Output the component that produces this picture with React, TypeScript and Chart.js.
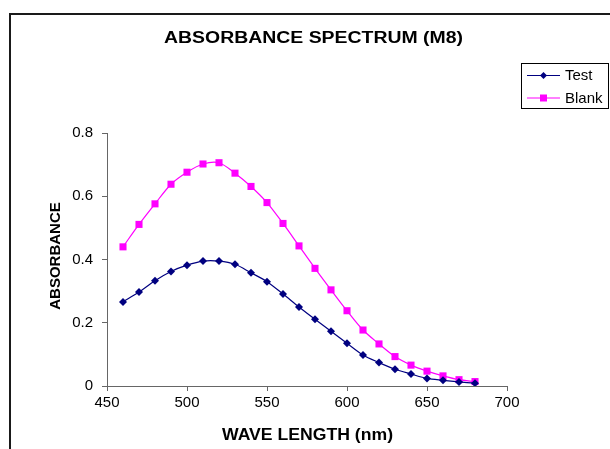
import React, { useEffect, useRef } from "react";
import { Chart, registerables } from "chart.js";

Chart.register(...registerables);

const chartTitle = "ABSORBANCE SPECTRUM (M8)";
const xTitle = "WAVE LENGTH (nm)";
const yTitle = "ABSORBANCE";

const wavelengths = [460, 470, 480, 490, 500, 510, 520, 530, 540, 550, 560, 570, 580, 590, 600, 610, 620, 630, 640, 650, 660, 670, 680];
const testValues = [0.266, 0.297, 0.333, 0.362, 0.382, 0.395, 0.395, 0.385, 0.358, 0.33, 0.291, 0.25, 0.211, 0.173, 0.135, 0.098, 0.074, 0.053, 0.038, 0.024, 0.018, 0.013, 0.009];
const blankValues = [0.44, 0.511, 0.576, 0.638, 0.676, 0.702, 0.706, 0.673, 0.631, 0.58, 0.514, 0.443, 0.372, 0.304, 0.238, 0.177, 0.133, 0.093, 0.066, 0.047, 0.032, 0.02, 0.014];

const seriesLabels = ["Test", "Blank"];
const seriesColors = ["#000080", "#FF00FF"];
const seriesMarkers = ["rectRot", "rect"];

const FONT = "'Liberation Sans', Arial, sans-serif";

function stretchedText(ctx: CanvasRenderingContext2D, text: string, cx: number, baseline: number, width: number) {
  const natural = ctx.measureText(text).width;
  const sx = width / natural;
  ctx.save();
  ctx.translate(cx, baseline);
  ctx.scale(sx, 1);
  ctx.textAlign = "center";
  ctx.textBaseline = "alphabetic";
  ctx.fillText(text, 0, 0);
  ctx.restore();
}

const decorPlugin = {
  id: "decor",
  afterDraw(chart: any) {
    const ctx = chart.ctx as CanvasRenderingContext2D;
    ctx.save();
    // outer border
    ctx.strokeStyle = "#1a1a1a";
    ctx.lineWidth = 2;
    ctx.beginPath();
    ctx.moveTo(10, 470);
    ctx.lineTo(10, 14);
    ctx.lineTo(640, 14);
    ctx.stroke();

    ctx.fillStyle = "#000";
    // title
    ctx.font = `bold 16px ${FONT}`;
    stretchedText(ctx, chartTitle, 313.5, 43, 299);

    // x title
    ctx.font = `bold 16px ${FONT}`;
    stretchedText(ctx, xTitle, 307.5, 440, 171);

    // y title
    ctx.font = `bold 15px ${FONT}`;
    ctx.save();
    ctx.translate(60, 256);
    ctx.rotate(-Math.PI / 2);
    ctx.textAlign = "center";
    ctx.textBaseline = "alphabetic";
    ctx.fillText(yTitle, 0, 0);
    ctx.restore();

    // legend
    ctx.strokeStyle = "#000";
    ctx.lineWidth = 1;
    ctx.strokeRect(521.5, 63.5, 87, 45);
    const rows = [75.5, 98];
    chart.data.datasets.forEach((ds: any, i: number) => {
      const y = rows[i];
      ctx.strokeStyle = ds.borderColor;
      ctx.lineWidth = 1;
      ctx.beginPath();
      ctx.moveTo(527, y);
      ctx.lineTo(560, y);
      ctx.stroke();
      ctx.fillStyle = ds.backgroundColor;
      ctx.beginPath();
      if (ds.pointStyle === "rectRot") {
        ctx.moveTo(543.5, y - 3.5);
        ctx.lineTo(547, y);
        ctx.lineTo(543.5, y + 3.5);
        ctx.lineTo(540, y);
        ctx.closePath();
      } else {
        ctx.rect(540, y - 3.5, 7, 7);
      }
      ctx.fill();
      ctx.fillStyle = "#000";
      ctx.font = `15px ${FONT}`;
      ctx.textAlign = "left";
      ctx.textBaseline = "middle";
      ctx.fillText(ds.label, 565, y + 0.5);
    });
    ctx.restore();
  },
};

export default function App() {
  const ref = useRef<HTMLCanvasElement | null>(null);

  useEffect(() => {
    document.body.style.margin = "0";
    const canvas = ref.current;
    if (!canvas) return;
    const series = [testValues, blankValues];
    const chart = new Chart(canvas, {
      type: "line",
      data: {
        datasets: series.map((vals, i) => ({
          label: seriesLabels[i],
          data: wavelengths.map((w, j) => ({ x: w, y: vals[j] })),
          borderColor: seriesColors[i],
          backgroundColor: seriesColors[i],
          pointBackgroundColor: seriesColors[i],
          pointBorderColor: seriesColors[i],
          pointStyle: seriesMarkers[i] as any,
          pointRadius: i === 0 ? 4 : 5,
          pointBorderWidth: 0,
          borderWidth: 1.2,
          tension: 0.3,
          fill: false,
        })),
      },
      options: {
        animation: false,
        responsive: false,
        devicePixelRatio: 1,
        layout: { padding: { top: 133, right: 103, left: 0, bottom: 0 } },
        plugins: {
          legend: { display: false },
          title: { display: false },
          tooltip: { enabled: false },
        },
        scales: {
          x: {
            type: "linear",
            min: 450,
            max: 700,
            ticks: {
              stepSize: 50,
              color: "#000",
              font: { family: FONT, size: 15 },
              padding: 3,
            },
            grid: { drawOnChartArea: false, drawTicks: true, tickLength: 5, color: "#666" },
            border: { color: "#666", width: 1 },
            afterFit: (scale: any) => {
              scale.height = 63;
            },
          },
          y: {
            min: 0,
            max: 0.8,
            ticks: {
              stepSize: 0.2,
              color: "#000",
              font: { family: FONT, size: 15 },
              padding: 9,
              callback: (v: any) => String(Number(Number(v).toFixed(1))),
            },
            grid: { drawOnChartArea: false, drawTicks: true, tickLength: 5, color: "#666" },
            border: { color: "#666", width: 1 },
            afterFit: (scale: any) => {
              scale.width = 107;
            },
          },
        },
      },
      plugins: [decorPlugin],
    });
    return () => chart.destroy();
  }, []);

  return (
    <div style={{ width: 610, height: 449 }}>
      <canvas ref={ref} width={610} height={449} style={{ display: "block" }} />
    </div>
  );
}
